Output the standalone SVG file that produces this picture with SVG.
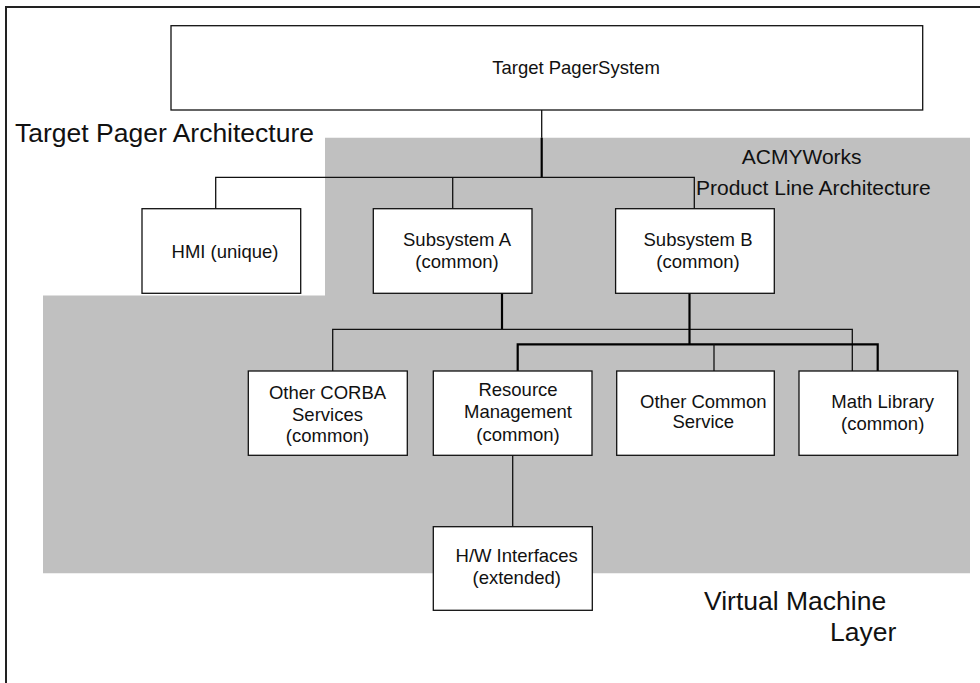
<svg xmlns="http://www.w3.org/2000/svg" width="980" height="683" viewBox="0 0 980 683">
<style>
.box{fill:#fff;stroke:#111;stroke-width:1.3}
.t{font-family:"Liberation Sans",Arial,sans-serif;font-size:18.5px;fill:#111;text-anchor:middle}
.big{font-family:"Liberation Sans",Arial,sans-serif;font-size:26.5px;fill:#111}
.mid{font-family:"Liberation Sans",Arial,sans-serif;font-size:21px;fill:#111}
.thin{stroke:#111;stroke-width:1.3;fill:none}
.thick{stroke:#000;stroke-width:2.2;fill:none}
</style>
<rect width="980" height="683" fill="#fff"/>
<path d="M6,683 V7 H980" fill="none" stroke="#222" stroke-width="2"/>
<path id="layer-bg" d="M325,137.7 H970 V573.3 H43 V295.5 H325 Z" fill="#c0c0c0"/>
<text class="big" x="15" y="141.7">Target Pager Architecture</text>
<text class="mid" x="801.7" y="164" text-anchor="middle">ACMYWorks</text>
<text class="mid" x="696" y="195">Product Line Architecture</text>
<text class="big" x="704" y="610">Virtual Machine</text>
<text class="big" x="830" y="641">Layer</text>
<g id="connectors">
<path class="thin" d="M541.7,110 V137.7"/>
<path class="thick" d="M541.7,137.7 V177.3"/>
<path class="thin" d="M215.7,208.7 V177.3 H694.3 V208.7"/>
<path class="thin" d="M452.7,177.3 V208.7"/>
<path class="thick" d="M502,293.3 V329.3"/>
<path class="thin" d="M332.7,371 V329.3 H852.3 V371"/>
<path class="thick" d="M689.5,293.3 V344.3"/>
<path class="thick" d="M517.7,371 V344.3 H877.7 V371"/>
<path class="thin" d="M714,344.3 V371"/>
<path class="thin" d="M512.7,455.3 V526.7"/>
</g>
<g id="pager"><rect class="box" x="171" y="25.7" width="751.7" height="84.3"/><text class="t" x="576" y="74">Target PagerSystem</text></g>
<g id="hmi"><rect class="box" x="142" y="208.7" width="158.7" height="84.6"/><text class="t" x="225" y="258">HMI (unique)</text></g>
<g id="subA"><rect class="box" x="373.3" y="208.7" width="158.7" height="84.6"/><text class="t" x="457" y="246">Subsystem A</text><text class="t" x="457" y="268">(common)</text></g>
<g id="subB"><rect class="box" x="615.6" y="208.7" width="158.7" height="84.6"/><text class="t" x="698" y="246">Subsystem B</text><text class="t" x="698" y="268">(common)</text></g>
<g id="corba"><rect class="box" x="248.3" y="371" width="159" height="84.3"/><text class="t" x="327.5" y="399">Other CORBA</text><text class="t" x="327.5" y="420.7">Services</text><text class="t" x="327.5" y="441.7">(common)</text></g>
<g id="resource"><rect class="box" x="433.3" y="371" width="158.7" height="84.3"/><text class="t" x="518" y="395.7">Resource</text><text class="t" x="518" y="418.3">Management</text><text class="t" x="518" y="440.7">(common)</text></g>
<g id="othercommon"><rect class="box" x="616.7" y="371" width="157.6" height="84.3"/><text class="t" x="703.3" y="408.3">Other Common</text><text class="t" x="703.3" y="428.3">Service</text></g>
<g id="math"><rect class="box" x="799" y="371" width="158.7" height="84.3"/><text class="t" x="882.7" y="408.3">Math Library</text><text class="t" x="882.7" y="430">(common)</text></g>
<g id="hw"><rect class="box" x="433.3" y="526.7" width="159" height="83.6"/><text class="t" x="516.7" y="561.7">H/W Interfaces</text><text class="t" x="516.7" y="584.3">(extended)</text></g>
</svg>
